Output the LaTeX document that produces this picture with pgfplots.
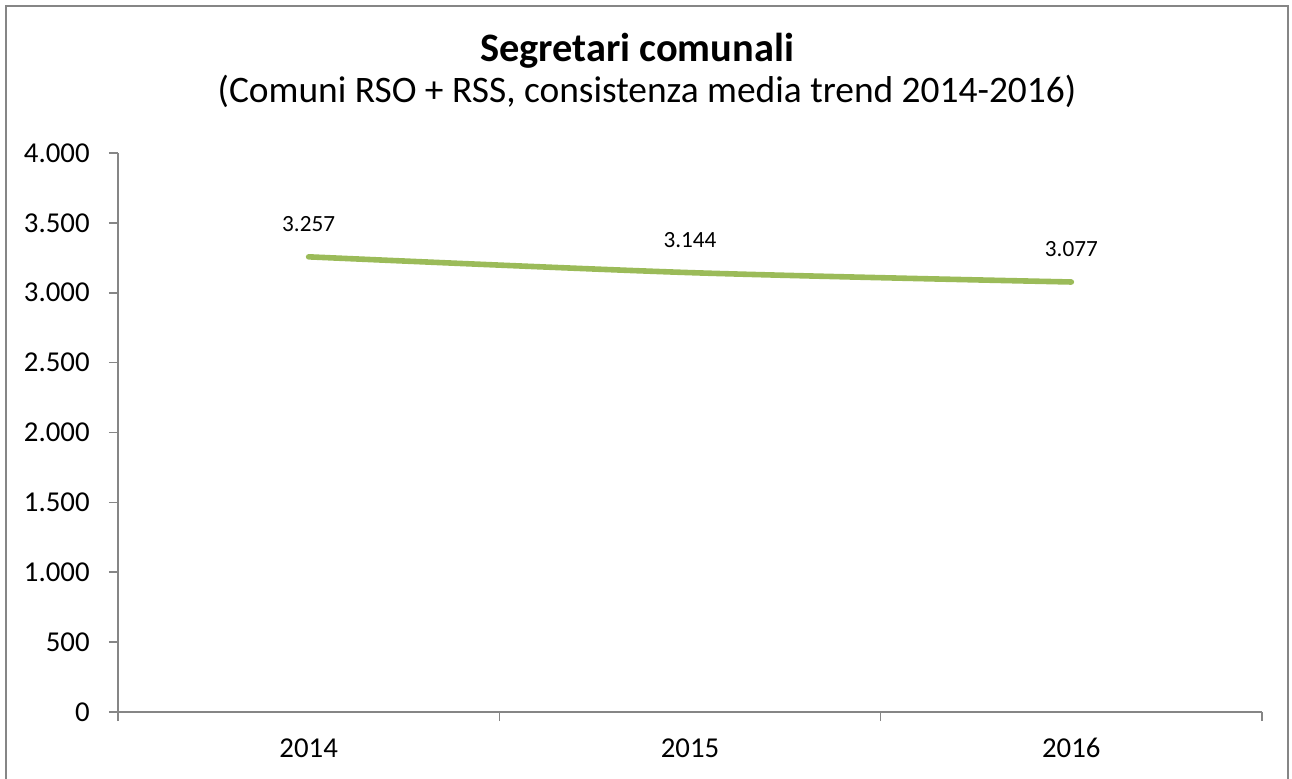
\documentclass[border=0pt]{standalone}
\usepackage{fontspec}
\setmainfont{Carlito}
\usepackage{pgfplots}
\pgfplotsset{compat=1.18}

\definecolor{linegreen}{HTML}{9BBB59}
\definecolor{axisgray}{HTML}{868686}

\begin{document}
\begin{tikzpicture}
  % canvas: 1px = 0.5pt, image 1292x778 px
  \useasboundingbox (0,0) rectangle (646pt,389pt);
  \draw[axisgray, line width=0.8pt] (3pt,386pt) rectangle (644pt,-10pt);

  \node[anchor=base, font=\fontsize{20.2}{24}\selectfont\bfseries] at (318.5pt,358pt) {Segretari comunali};
  \node[anchor=base, font=\fontsize{18.7}{22}\selectfont] at (323.5pt,337.5pt) {(Comuni RSO + RSS, consistenza media trend 2014-2016)};

  \begin{axis}[
      at={(59pt,33pt)}, anchor=south west,
      scale only axis, width=572pt, height=279.5pt,
      xmin=-0.5, xmax=2.5, ymin=0, ymax=4000,
      axis lines*=left,
      axis line style={axisgray, line width=0.8pt},
      every tick/.style={axisgray, line width=0.8pt},
      tick align=outside, major tick length=4.5pt,
      xtick={-0.5,0.5,1.5,2.5}, xticklabels={},
      extra x ticks={0,1,2},
      extra x tick labels={2014,2015,2016},
      extra x tick style={major tick length=0pt},
      ytick={0,500,...,4000},
      yticklabel style={anchor=east, inner sep=0pt, xshift=-9.5pt},
      xticklabel style={anchor=base, inner sep=0pt, yshift=-22.5pt},
      ticklabel style={font=\fontsize{14.4}{17}\selectfont},
      /pgf/number format/.cd, fixed, 1000 sep={.}, assume math mode=true,
      /pgfplots/.cd,
      clip=false,
      nodes near coords,
      nodes near coords style={font=\fontsize{11.6}{14}\selectfont, anchor=base, inner sep=0pt, yshift=12.5pt, black,
        /pgf/number format/.cd, fixed, 1000 sep={.}, assume math mode=true},
    ]
    \addplot[linegreen, line width=2.8pt, line cap=round, smooth, tension=0.5, mark=none]
      coordinates {(0,3257) (1,3144) (2,3077)};
  \end{axis}
\end{tikzpicture}
\end{document}
